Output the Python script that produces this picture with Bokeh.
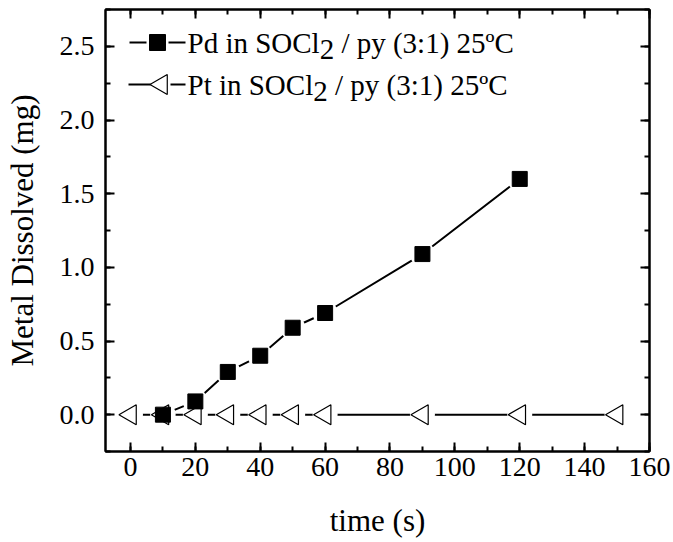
import math
from bokeh.plotting import figure
from bokeh.models import (Range1d, LinearAxis, SingleIntervalTicker, PrintfTickFormatter,
                          ColumnDataSource)
from bokeh.core.properties import value
from bokeh.embed import file_html
from bokeh.resources import INLINE

# ---- data ----
pd_time = [10, 20, 30, 40, 50, 60, 90, 120]
pd_mass = [0.0, 0.09, 0.29, 0.40, 0.59, 0.69, 1.09, 1.60]
pt_time = [0, 10, 20, 30, 40, 50, 60, 90, 120, 150]
pt_mass = [0.0, 0.0, 0.0, 0.0, 0.0, 0.0, 0.0, 0.0, 0.0, 0.0]

series_names = ["Pd in SOCl", "Pt in SOCl"]
name_sub = "2"
name_rest = "/ py (3:1) 25ºC"
x_title = "time (s)"
y_title = "Metal Dissolved (mg)"

FONT = "Liberation Serif"
TICK_FS = 28
LEG_FS = 29
LAB_FS = 31

# ---- layout (page has no margin in this template) ----
W, H = 673, 542
FL, FR, FT, FB = 105, 649, 9, 451          # frame edges in page pixels
FW, FH = FR - FL, FB - FT

p = figure(width=W, height=H,
           x_range=Range1d(-7.7, 160), y_range=Range1d(-0.25, 2.75),
           output_backend="svg", toolbar_location=None,
           min_border_left=FL, min_border_right=W - FR, min_border_top=FT, min_border_bottom=H - FB)
p.xgrid.visible = False
p.ygrid.visible = False
p.outline_line_color = "black"
p.outline_line_width = 2
p.background_fill_color = "white"
p.border_fill_color = "white"

# pixel ranges of the frame, used only to place the legend decoration
p.extra_x_ranges = {"px": Range1d(0, FW)}
p.extra_y_ranges = {"px": Range1d(FH, 0)}


def style_axis(ax, labels=True):
    ax.axis_line_color = "black"
    ax.axis_line_width = 2
    ax.major_tick_in = 9
    ax.major_tick_out = 0
    ax.minor_tick_in = 5
    ax.minor_tick_out = 0
    ax.major_tick_line_width = 2
    ax.minor_tick_line_width = 2
    ax.major_tick_line_color = "black"
    ax.minor_tick_line_color = "black"
    if labels:
        ax.major_label_text_font = FONT
        ax.major_label_text_font_size = f"{TICK_FS}px"
        ax.major_label_text_font_style = "normal"
        ax.major_label_text_color = "black"
        ax.axis_label_text_font = FONT
        ax.axis_label_text_font_size = f"{LAB_FS}px"
        ax.axis_label_text_font_style = "normal"
        ax.axis_label_text_color = "black"
    else:
        ax.major_label_text_font_size = "0px"
        ax.major_label_text_color = None
        ax.major_label_standoff = 0


xax = p.xaxis[0]
yax = p.yaxis[0]
xax.ticker = SingleIntervalTicker(interval=20, num_minor_ticks=2)
yax.ticker = SingleIntervalTicker(interval=0.5, num_minor_ticks=2)
yax.formatter = PrintfTickFormatter(format="%.1f")
style_axis(xax)
style_axis(yax)
xax.axis_label = x_title
yax.axis_label = y_title
xax.major_label_standoff = 6
xax.axis_label_standoff = 24
yax.major_label_standoff = 11
yax.axis_label_standoff = 17

top_ax = LinearAxis(ticker=SingleIntervalTicker(interval=20, num_minor_ticks=2))
style_axis(top_ax, labels=False)
p.add_layout(top_ax, "above")
right_ax = LinearAxis(ticker=SingleIntervalTicker(interval=0.5, num_minor_ticks=2))
style_axis(right_ax, labels=False)
p.add_layout(right_ax, "right")

pd_src = ColumnDataSource(dict(x=pd_time, y=pd_mass))
pt_src = ColumnDataSource(dict(x=pt_time, y=pt_mass))

p.line("x", "y", source=pt_src, line_color="black", line_width=2)
p.line("x", "y", source=pd_src, line_color="black", line_width=2)
# white halos give the line gaps around the symbols
p.scatter("x", "y", source=pt_src, marker="circle", size=25, fill_color="white", line_color=None)
p.scatter("x", "y", source=pd_src, marker="circle", size=25, fill_color="white", line_color=None)
p.scatter("x", "y", source=pt_src, marker="triangle", size=20, angle=math.pi / 2,
          fill_color="white", line_color="black", line_width=1.2)
p.scatter("x", "y", source=pd_src, marker="square", size=15,
          fill_color="black", line_color="black", line_width=1)

# ---- legend (frame pixels, y measured from the top of the frame) ----
LEG_X = 24          # left of the sample
LEG_W = 56          # sample width
ROW_Y = [33, 75]    # sample centre lines
cx = LEG_X + LEG_W / 2
# Pd sample: line - square - line
p.segment(x0=[LEG_X, cx + 11], x1=[cx - 11, LEG_X + LEG_W], y0=[ROW_Y[0]] * 2, y1=[ROW_Y[0]] * 2,
          x_range_name="px", y_range_name="px", line_color="black", line_width=2)
p.scatter(x=[cx], y=[ROW_Y[0]], marker="square", size=16, fill_color="black", line_color="black",
          x_range_name="px", y_range_name="px")
# Pt sample: line - triangle - line
p.segment(x0=[LEG_X - 1, cx + 13], x1=[cx - 7, LEG_X + LEG_W], y0=[ROW_Y[1]] * 2, y1=[ROW_Y[1]] * 2,
          x_range_name="px", y_range_name="px", line_color="black", line_width=2)
p.scatter(x=[cx + 4], y=[ROW_Y[1]], marker="triangle", size=20, angle=math.pi / 2,
          fill_color="white", line_color="black", line_width=1.2,
          x_range_name="px", y_range_name="px")

# texts: name, lowered subscript, rest
TX = LEG_X + LEG_W + 2
em_w = {"Pd in SOCl": 4.557, "Pt in SOCl": 4.335}
sub_drop = 7
txt_x, txt_y, txt = [], [], []
for name, yc in zip(series_names, ROW_Y):
    w1 = em_w[name] * LEG_FS
    txt_x += [TX, TX + w1, TX + w1 + 0.75 * LEG_FS]
    txt_y += [yc, yc + sub_drop, yc]
    txt += [name, name_sub, name_rest]
p.text(x=txt_x, y=txt_y, text=txt, x_range_name="px", y_range_name="px",
       text_font=value(FONT), text_font_size=value(f"{LEG_FS}px"),
       text_baseline="middle", text_align="left", text_color="black")

open("out.html", "w").write(file_html(p, INLINE))
